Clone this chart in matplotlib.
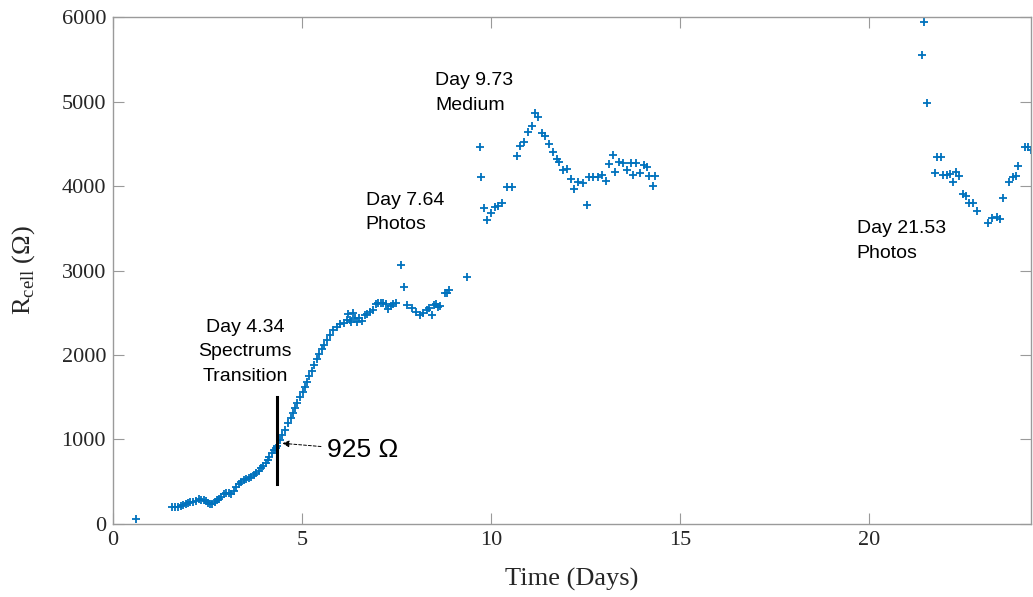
import numpy as np
import matplotlib
matplotlib.use("Agg")
import matplotlib.pyplot as plt

# Cell resistance readings (days, ohms)
days = [0.61,
        1.57, 1.65, 1.72, 1.80, 1.85, 1.92, 1.98, 2.05, 2.12, 2.20, 2.28, 2.34,
        2.40, 2.46, 2.51, 2.57, 2.63, 2.69, 2.75, 2.81, 2.87, 2.94, 3.00, 3.07,
        3.13, 3.20, 3.26, 3.33, 3.39, 3.46, 3.53, 3.60, 3.66, 3.72, 3.79, 3.86,
        3.92, 3.98, 4.04, 4.09, 4.14, 4.20, 4.25, 4.30, 4.34, 4.42, 4.48, 4.55,
        4.64, 4.70, 4.75, 4.81, 4.88, 4.95, 5.02, 5.08, 5.14, 5.19, 5.26, 5.32,
        5.39, 5.46, 5.52, 5.59, 5.65, 5.74, 5.83, 5.92, 6.00, 6.11, 6.18, 6.22,
        6.27, 6.31, 6.36, 6.40, 6.46, 6.52, 6.58, 6.67, 6.71, 6.80, 6.89, 6.95,
        7.02, 7.08, 7.15, 7.22, 7.28, 7.35, 7.42, 7.50, 7.61, 7.70, 7.79, 7.90,
        8.02, 8.11, 8.21, 8.30, 8.36, 8.43, 8.50, 8.54, 8.60, 8.65, 8.78, 8.84,
        8.90, 9.37,
        9.71, 9.75, 9.81, 9.90, 9.99, 10.11, 10.19, 10.30, 10.43, 10.55, 10.68,
        10.77, 10.87, 10.99, 11.08, 11.16, 11.25, 11.34, 11.43, 11.54, 11.63,
        11.74, 11.81, 11.90, 12.00, 12.12, 12.20, 12.31, 12.44, 12.55, 12.60,
        12.71, 12.84, 12.95, 13.04, 13.13, 13.22, 13.29, 13.39, 13.50, 13.61,
        13.70, 13.76, 13.85, 13.94, 14.05, 14.12, 14.19, 14.28, 14.35,
        21.40, 21.46, 21.55, 21.75, 21.81, 21.90, 21.97, 22.06, 22.14, 22.23,
        22.30, 22.39, 22.48, 22.57, 22.65, 22.76, 22.87, 23.16, 23.25, 23.38,
        23.47, 23.55, 23.71, 23.82, 23.89, 23.95, 24.13, 24.21, 24.28]
r_cell = [60,
          197, 200, 205, 215, 221, 232, 245, 255, 264, 275, 292, 288,
          284, 270, 252, 242, 237, 255, 284, 300, 323, 350, 370, 365,
          355, 395, 434, 470, 501, 515, 529, 545, 560, 580, 600, 630,
          659, 690, 726, 760, 797, 835, 876, 900, 925, 994, 1050, 1112,
          1191, 1250, 1310, 1369, 1428, 1507, 1566, 1625, 1684, 1751, 1815, 1882,
          1949, 2012, 2067, 2118, 2178, 2237, 2295, 2328, 2370, 2382, 2420, 2490,
          2414, 2394, 2493, 2434, 2394, 2434, 2400, 2473, 2485, 2513, 2533, 2600,
          2619, 2610, 2612, 2600, 2541, 2580, 2604, 2619, 3065, 2801, 2592, 2552,
          2513, 2473, 2493, 2533, 2560, 2473, 2590, 2604, 2570, 2580, 2738, 2730,
          2769, 2919,
          4458, 4103, 3736, 3598, 3677, 3755, 3763, 3795, 3992, 3985, 4359,
          4473, 4524, 4635, 4710, 4867, 4820, 4623, 4592, 4497, 4399,
          4316, 4288, 4189, 4201, 4083, 3961, 4051, 4039, 3775, 4111,
          4103, 4111, 4130, 4059, 4260, 4367, 4169, 4288, 4276, 4189,
          4276, 4130, 4276, 4158, 4249, 4229, 4118, 4000, 4118,
          5550, 5937, 4979, 4158, 4339, 4339, 4130, 4130, 4142, 4051,
          4170, 4118, 3905, 3882, 3803, 3795, 3708, 3566, 3617, 3637,
          3606, 3855, 4051, 4111, 4118, 4237, 4465, 4465, 4426]

# annotation text and anchor (day, ohm)
notes = [("Day 4.34\nSpectrums\nTransition", 3.49, 2036, "center"),
         ("Day 7.64\nPhotos", 6.69, 3686, "left"),
         ("Day 9.73\nMedium", 8.52, 5101, "left"),
         ("Day 21.53\nPhotos", 19.68, 3349, "left")]
marker_day = 4.34
marker_span = [470, 1500]

serif = "Liberation Serif"
sans = "Liberation Sans"
axis_grey = "#9a9a9a"
text_dark = "#262626"

fig = plt.figure(figsize=(10.33, 5.97), dpi=100)
ax = fig.add_axes([0.1094, 0.1223, 0.889, 0.8492])

ax.plot(days, r_cell, linestyle="none", marker="+", markersize=6,
        markeredgewidth=1.3, color="#0072BD")

ax.plot([marker_day, marker_day], marker_span, color="black", lw=2.2)

ax.annotate("925 \u03a9", xy=(4.48, 955), xytext=(5.65, 876),
            fontsize=19, family=sans, va="center", ha="left",
            arrowprops=dict(arrowstyle="-|>", linestyle=(0, (3, 2)), lw=0.7,
                            color="black", mutation_scale=10,
                            shrinkA=2, shrinkB=0))

for txt, x, y, ha in notes:
    ax.text(x, y, txt, fontsize=14, family=sans, ha=ha, va="center",
            multialignment=ha, linespacing=1.56, color="black")

ax.set_xlim(0, 24.3)
ax.set_ylim(0, 6000)
ax.set_xticks([0, 5, 10, 15, 20])
ax.set_yticks(np.arange(0, 6001, 1000))

for s in ax.spines.values():
    s.set_color(axis_grey)
    s.set_linewidth(1.0)
ax.tick_params(direction="in", length=8, width=0.8, color=axis_grey,
               top=True, right=True, labelsize=16, labelcolor=text_dark,
               pad=5)
for lab in ax.get_xticklabels() + ax.get_yticklabels():
    lab.set_family(serif)

ax.set_xlabel("Time (Days)", family=serif, fontsize=19, color=text_dark,
              labelpad=13)
ax.set_ylabel("R$_\\mathregular{cell}$ (\u03a9)", family=serif, fontsize=19,
              color=text_dark, labelpad=18)

fig.savefig("out.png", dpi=100)
